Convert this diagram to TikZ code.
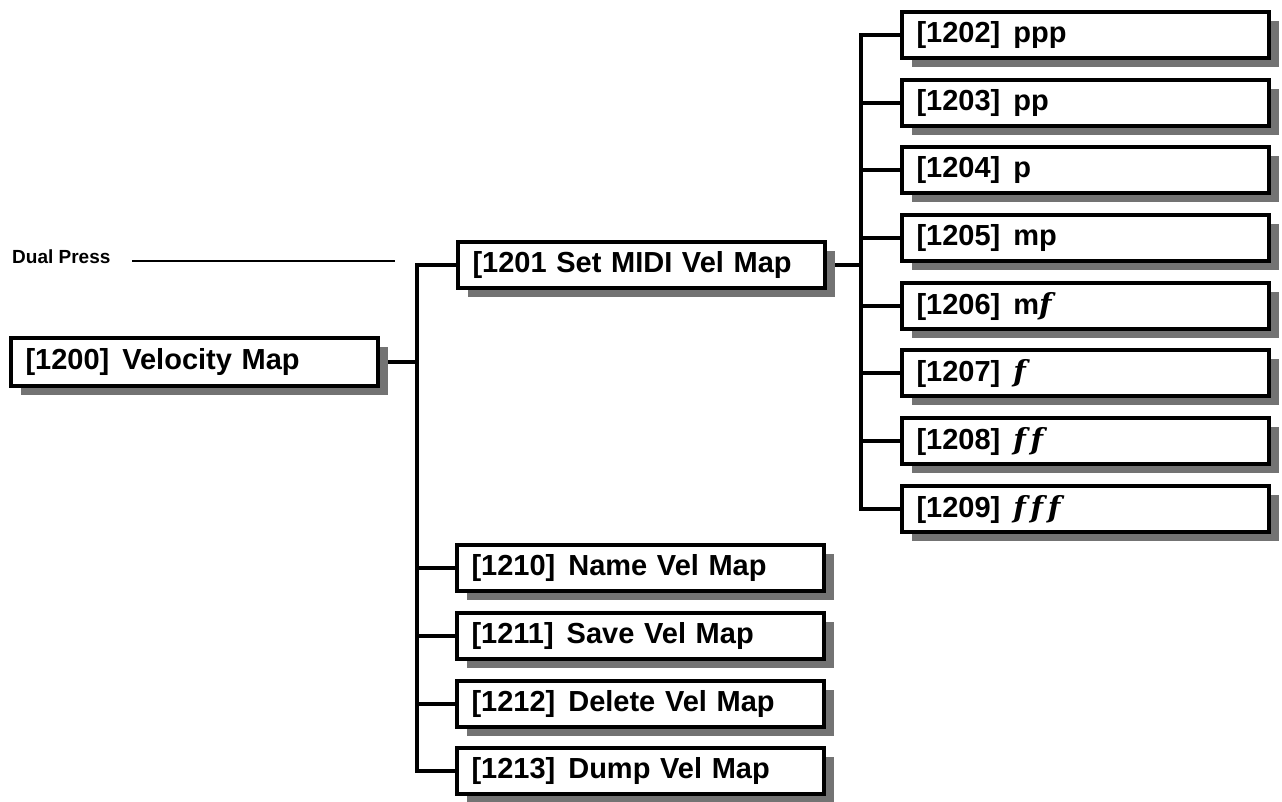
\documentclass[tikz,border=0pt]{standalone}
\usepackage{fontspec}
\setmainfont{Liberation Sans}
\newfontfamily\dynfont{DejaVu Serif}
\usetikzlibrary{shadows,backgrounds}
\newcommand{\dyn}[1]{{\dynfont\bfseries\itshape\fontsize{29}{32}\selectfont #1}}
\begin{document}
\begin{tikzpicture}[x=1pt,y=-1pt,
  menubox/.style={draw, line width=4pt, fill=white, minimum height=46pt,
    text width=337pt, inner xsep=15pt, inner ysep=0pt, align=left,
    font=\fontsize{29}{32}\selectfont\bfseries,
    drop shadow={shadow xshift=10pt, shadow yshift=-9pt, fill=black!55, opacity=1}},
  link/.style={line width=3.5pt, line cap=rect}]
\useasboundingbox (0,0) rectangle (1282,801);

% root
\node[menubox, minimum height=48pt] (root) at (194,362) {[1200]\hspace{0.45em}Velocity Map};
% second level
\node[menubox] (set) at (641,265) {[1201 Set MIDI Vel Map};
\node[menubox] (d10) at (640,568) {[1210]\hspace{0.45em}Name Vel Map};
\node[menubox] (d11) at (640,636) {[1211]\hspace{0.45em}Save Vel Map};
\node[menubox] (d12) at (640,704) {[1212]\hspace{0.45em}Delete Vel Map};
\node[menubox] (d13) at (640,771) {[1213]\hspace{0.45em}Dump Vel Map};
% third level
\node[menubox] (v02) at (1085,35)  {[1202]\hspace{0.45em}ppp};
\node[menubox] (v03) at (1085,103) {[1203]\hspace{0.45em}pp};
\node[menubox] (v04) at (1085,170) {[1204]\hspace{0.45em}p};
\node[menubox] (v05) at (1085,238) {[1205]\hspace{0.45em}mp};
\node[menubox] (v06) at (1085,306) {[1206]\hspace{0.45em}m\dyn{f}};
\node[menubox] (v07) at (1085,373) {[1207]\hspace{0.45em}\dyn{f}};
\node[menubox] (v08) at (1085,441) {[1208]\hspace{0.45em}\dyn{f\,f}};
\node[menubox] (v09) at (1085,509) {[1209]\hspace{0.45em}\dyn{f\,f\,f}};

% dual press label
\node[font=\fontsize{19}{22}\selectfont\bfseries, anchor=west, inner sep=0pt] (dp) at (12,257) {Dual Press};
\coordinate (dpa) at (132,261);
\coordinate (dpb) at (395,261);
\draw[line width=1.4pt] (dpa) -- (dpb);

\coordinate (tA) at (417,0);
\coordinate (tB) at (861,0);

\begin{pgfonlayer}{background}
  \draw[link] (root.east) -- (root.east -| tA);
  \draw[link] (tA |- set.west) -- (tA |- d13.west);
  \foreach \n in {set,d10,d11,d12,d13} \draw[link] (tA |- \n.west) -- (\n.west);
  \draw[link] (set.east) -- (set.east -| tB);
  \draw[link] (tB |- v02.west) -- (tB |- v09.west);
  \foreach \n in {v02,v03,v04,v05,v06,v07,v08,v09} \draw[link] (tB |- \n.west) -- (\n.west);
\end{pgfonlayer}
\end{tikzpicture}
\end{document}
